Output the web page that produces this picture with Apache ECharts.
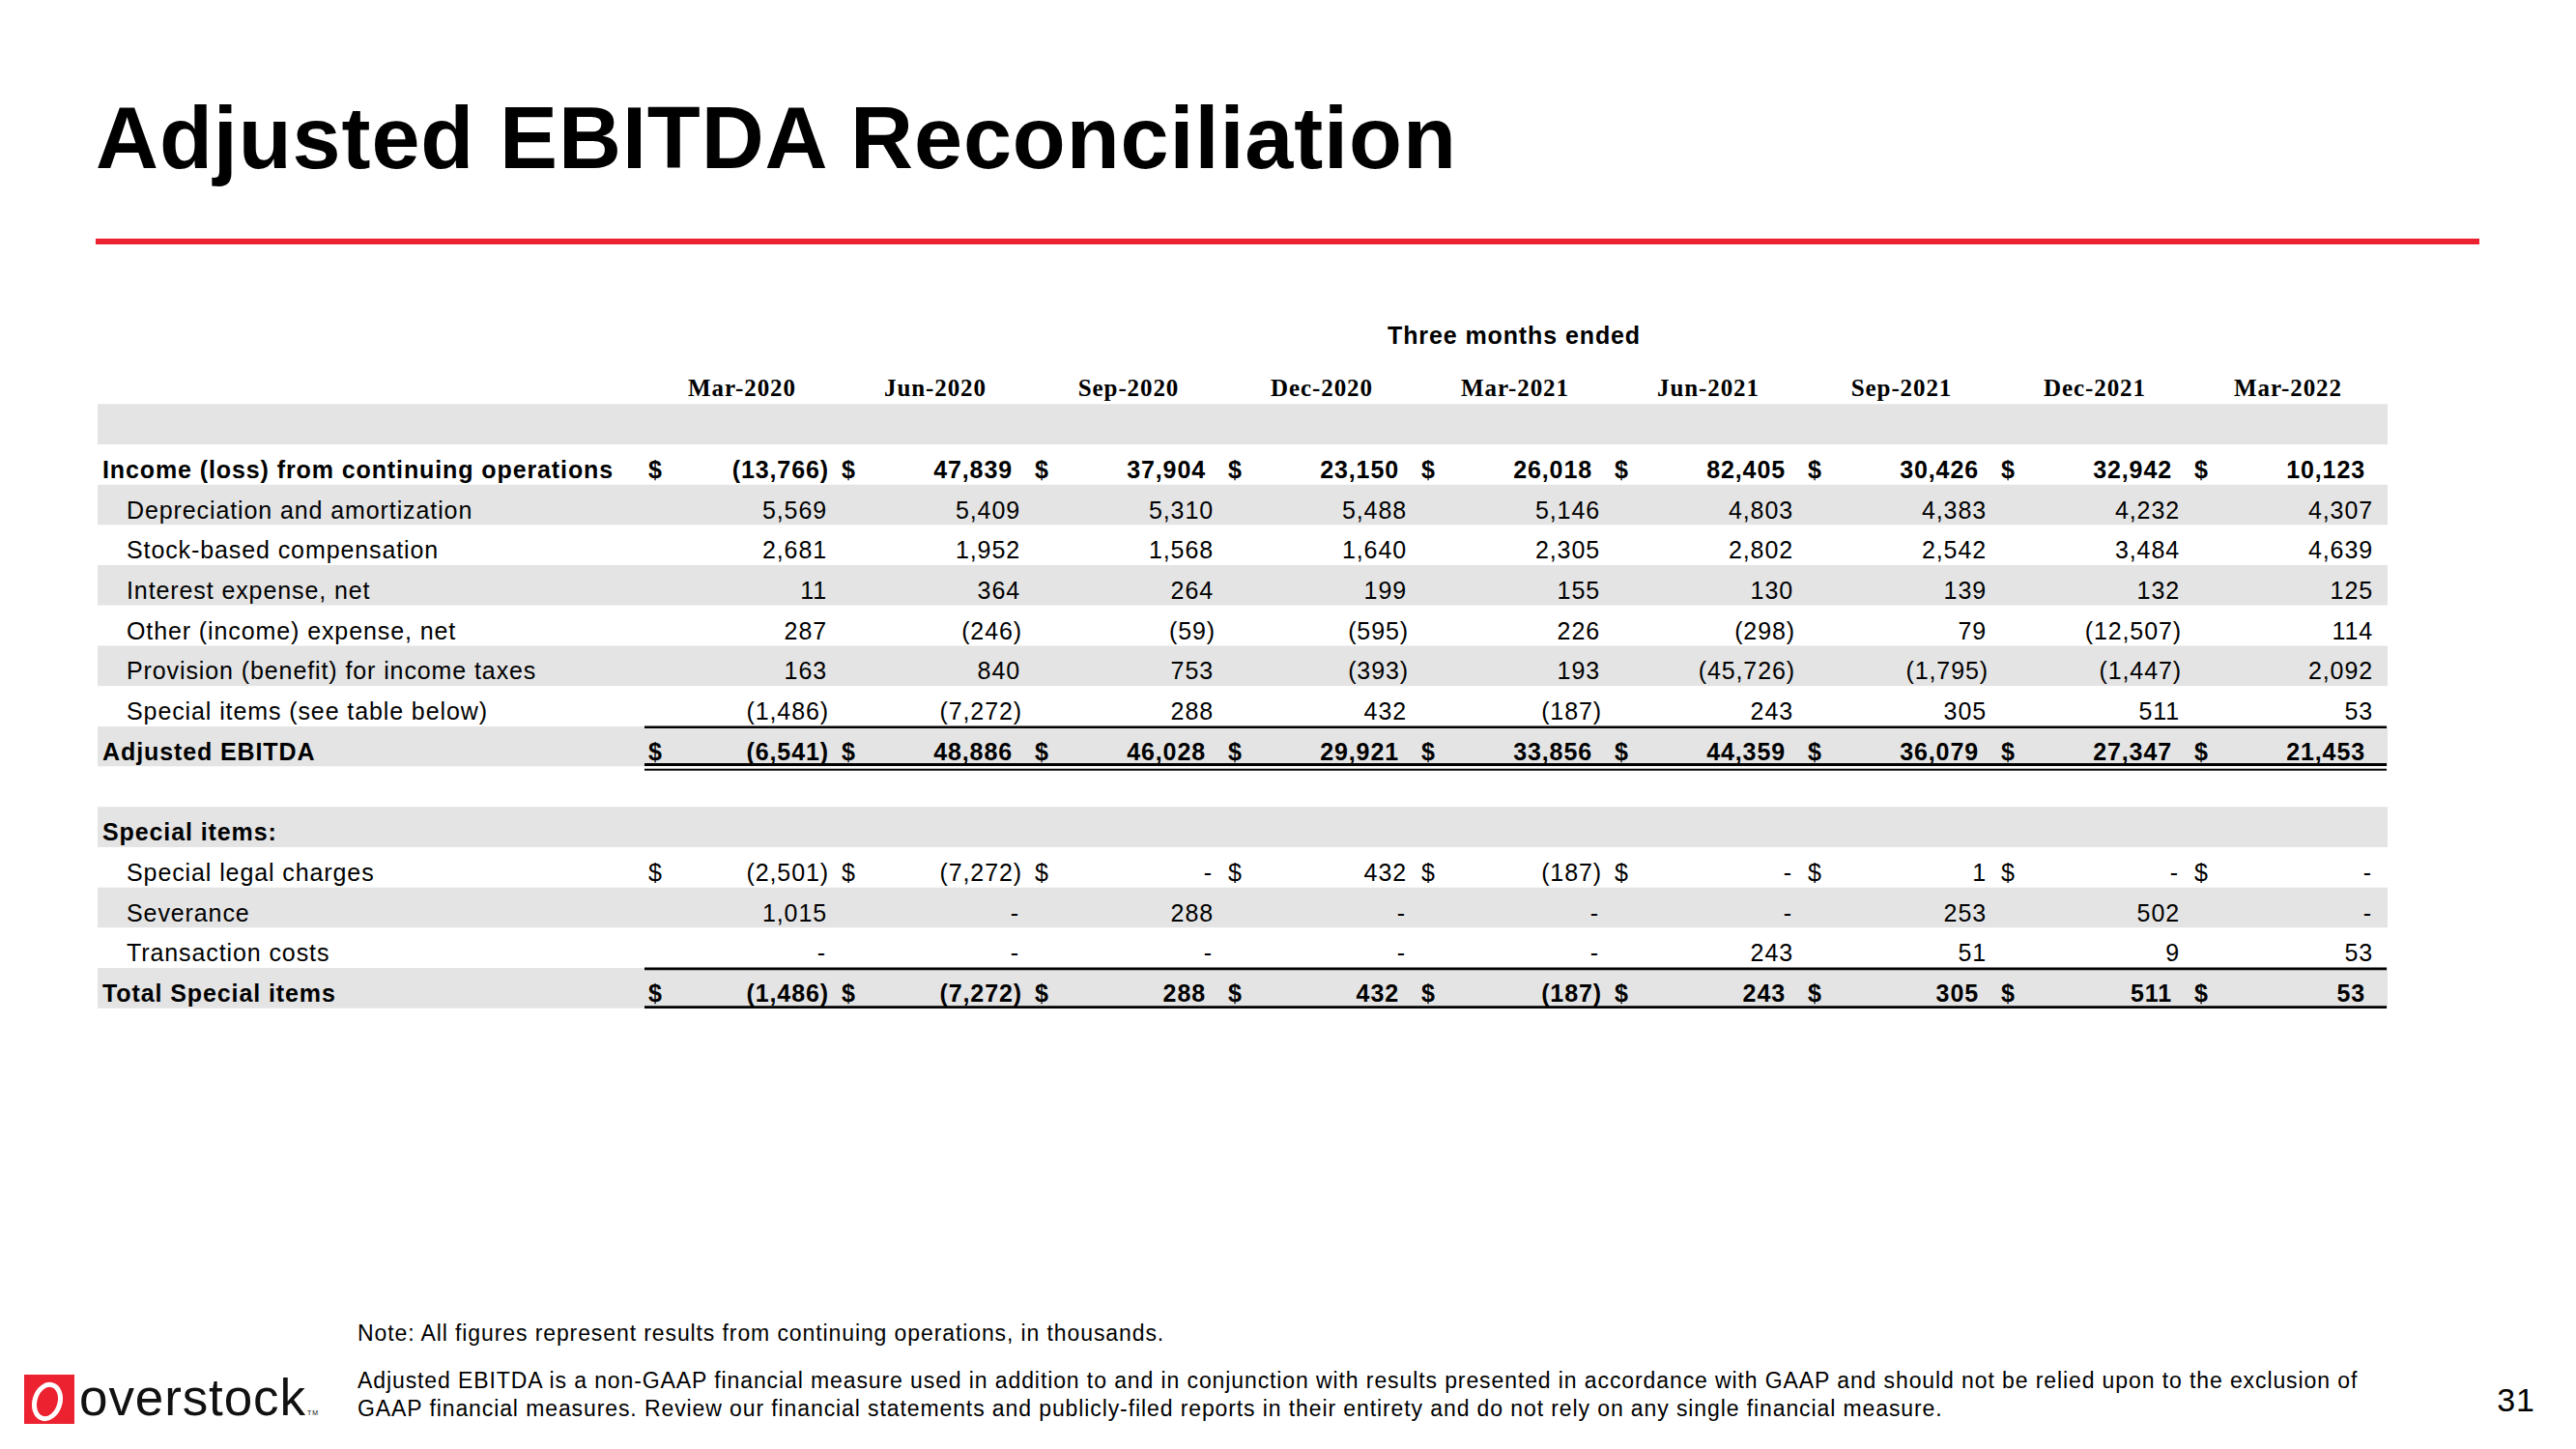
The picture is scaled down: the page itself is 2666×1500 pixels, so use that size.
<!DOCTYPE html>
<html><head><meta charset="utf-8">
<script src="https://cdn.jsdelivr.net/npm/echarts@6/dist/echarts.min.js"></script>
<style>
html,body{margin:0;padding:0;background:#fff;}
#chart{width:2666px;height:1500px;}
#chart text{letter-spacing:0.9px;}
</style></head><body><div id="chart"></div>
<script>
// ---------- data ----------
const periods = ['Mar-2020', 'Jun-2020', 'Sep-2020', 'Dec-2020', 'Mar-2021', 'Jun-2021', 'Sep-2021', 'Dec-2021', 'Mar-2022'];
const rowLabels = [' ', 'Income (loss) from continuing operations', 'Depreciation and amortization', 'Stock-based compensation',
  'Interest expense, net', 'Other (income) expense, net', 'Provision (benefit) for income taxes', 'Special items (see table below)',
  'Adjusted EBITDA', '  ', 'Special items:', 'Special legal charges', 'Severance', 'Transaction costs', 'Total Special items'];
const incomeLoss       = [-13766, 47839, 37904, 23150, 26018, 82405, 30426, 32942, 10123];
const depreciation     = [5569, 5409, 5310, 5488, 5146, 4803, 4383, 4232, 4307];
const stockComp        = [2681, 1952, 1568, 1640, 2305, 2802, 2542, 3484, 4639];
const interestExpense  = [11, 364, 264, 199, 155, 130, 139, 132, 125];
const otherIncomeExp   = [287, -246, -59, -595, 226, -298, 79, -12507, 114];
const taxProvision     = [163, 840, 753, -393, 193, -45726, -1795, -1447, 2092];
const specialItems     = [-1486, -7272, 288, 432, -187, 243, 305, 511, 53];
const adjustedEbitda   = [-6541, 48886, 46028, 29921, 33856, 44359, 36079, 27347, 21453];
const specialLegal     = [-2501, -7272, 0, 432, -187, 0, 1, 0, 0];
const severance        = [1015, 0, 288, 0, 0, 0, 253, 502, 0];
const transactionCosts = [0, 0, 0, 0, 0, 243, 51, 9, 53];
const totalSpecial     = [-1486, -7272, 288, 432, -187, 243, 305, 511, 53];

const rowValues = {1: incomeLoss, 2: depreciation, 3: stockComp, 4: interestExpense, 5: otherIncomeExp,
  6: taxProvision, 7: specialItems, 8: adjustedEbitda, 11: specialLegal, 12: severance, 13: transactionCosts, 14: totalSpecial};
const boldRows = [1, 8, 10, 14];
const dollarRows = [1, 8, 11, 14];
const topRuleRows = [8, 14];
const doubleBottomRuleRows = [8];
const singleBottomRuleRows = [14];

// ---------- build ----------
const SANS = "'Liberation Sans', Arial, Helvetica, sans-serif";
const SERIF = "'Liberation Serif', 'Times New Roman', serif";
const RED = '#EC2230';
const TOP = 418.3, ROWH = 41.7, NROWS = rowLabels.length;

const cells = [];
Object.keys(rowValues).forEach(k => {
  const r = +k;
  rowValues[k].forEach((v, c) => cells.push([c, r, v, boldRows.includes(r) ? 1 : 0, dollarRows.includes(r) ? 1 : 0]));
});
const rules = [];
topRuleRows.forEach(r => rules.push([0, r, 0]));
doubleBottomRuleRows.forEach(r => rules.push([0, r, 1]));
singleBottomRuleRows.forEach(r => rules.push([0, r, 2]));

function fmt(v) {
  if (v === 0) return '-';
  const s = Math.abs(v).toLocaleString('en-US');
  return v < 0 ? '(' + s + ')' : s;
}

function renderCell(params, api) {
  const c = api.value(0), r = api.value(1), v = api.value(2), bold = api.value(3), dollar = api.value(4);
  const pt = api.coord([c, r]);
  const bw = api.size([1, 1]);
  const R = pt[0] + bw[0] / 2 - 8;
  const y = pt[1] + 5;
  let dx;
  if (v === 0) dx = -1; else if (v < 0) dx = 2; else dx = bold ? -8 : 0;
  const font = (bold ? 'bold ' : '') + '25px ' + SANS;
  const children = [{type: 'text', x: R + dx, y: y, style: {text: fmt(v), align: 'right', verticalAlign: 'middle', font: font, fill: '#000'}}];
  if (dollar) children.push({type: 'text', x: pt[0] - bw[0] / 2 + 7, y: y, style: {text: '$', align: 'left', verticalAlign: 'middle', font: font, fill: '#000'}});
  return {type: 'group', children: children};
}

function renderRule(params, api) {
  const r = api.value(1), kind = api.value(2);
  const pt = api.coord([0, r]);
  const bh = api.size([1, 1])[1];
  const cs = params.coordSys;
  const x1 = cs.x + 3, x2 = cs.x + cs.width + 6;
  const top = pt[1] - bh / 2, bottom = pt[1] + bh / 2;
  const line = (y, w) => ({type: 'line', shape: {x1: x1, y1: y, x2: x2, y2: y}, style: {stroke: '#000', lineWidth: w}});
  let children;
  if (kind === 0) children = [line(top + 0.8, 2.6)];
  else if (kind === 1) children = [line(bottom - 2, 3), line(bottom + 3.2, 2)];
  else children = [line(bottom - 1.2, 2.8)];
  return {type: 'group', children: children};
}

const chart = echarts.init(document.getElementById('chart'), null, {renderer: 'svg', width: 2666, height: 1500});
chart.setOption({
  animation: false,
  backgroundColor: '#ffffff',
  grid: [
    {left: 101, top: TOP, width: 2370, height: ROWH * NROWS},
    {left: 664, top: TOP, width: 1800, height: ROWH * NROWS}
  ],
  xAxis: [
    {gridIndex: 0, type: 'value', min: 0, max: 1, show: false},
    {gridIndex: 1, type: 'category', data: periods, position: 'top',
      axisLine: {show: false}, axisTick: {show: false}, splitLine: {show: false},
      axisLabel: {interval: 0, margin: 4, color: '#000', fontFamily: SERIF, fontWeight: 'bold', fontSize: 25, lineHeight: 26, padding: [0, 0, 0, 8]}}
  ],
  yAxis: [
    {gridIndex: 0, type: 'category', data: rowLabels, inverse: true,
      axisLine: {show: false}, axisTick: {show: false}, axisLabel: {show: false}, splitLine: {show: false},
      splitArea: {show: true, interval: 0, areaStyle: {color: ['#E4E4E4', '#FFFFFF']}}},
    {gridIndex: 1, type: 'category', data: rowLabels, inverse: true,
      axisLine: {show: false}, axisTick: {show: false}, splitLine: {show: false},
      axisLabel: {interval: 0, align: 'left', margin: 558, color: '#000',
        formatter: (val, idx) => boldRows.includes(idx) ? '{b|' + val + '}' : '{r|' + val + '}',
        rich: {
          b: {fontFamily: SANS, fontWeight: 'bold', fontSize: 25, color: '#000', padding: [10, 0, 0, 0]},
          r: {fontFamily: SANS, fontSize: 25, color: '#000', padding: [10, 0, 0, 25]}
        }}}
  ],
  series: [
    {type: 'custom', xAxisIndex: 1, yAxisIndex: 1, data: cells, encode: {x: 0, y: 1}, renderItem: renderCell, silent: true},
    {type: 'custom', xAxisIndex: 1, yAxisIndex: 1, data: rules, encode: {x: 0, y: 1}, renderItem: renderRule, silent: true}
  ],
  graphic: [
    {type: 'text', x: 99, y: 143, style: {text: 'Adjusted EBITDA Reconciliation', font: 'bold 90px ' + SANS, fill: '#000', align: 'left', verticalAlign: 'middle'}},
    {type: 'rect', shape: {x: 99, y: 247, width: 2467, height: 6}, style: {fill: RED}},
    {type: 'text', x: 1567, y: 347, style: {text: 'Three months ended', font: 'bold 25px ' + SANS, fill: '#000', align: 'center', verticalAlign: 'middle'}},
    {type: 'text', x: 370, y: 1380, style: {text: 'Note: All figures represent results from continuing operations, in thousands.', font: '23px ' + SANS, fill: '#000', align: 'left', verticalAlign: 'middle'}},
    {type: 'text', x: 370, y: 1429, style: {text: 'Adjusted EBITDA is a non-GAAP financial measure used in addition to and in conjunction with results presented in accordance with GAAP and should not be relied upon to the exclusion of', font: '23px ' + SANS, fill: '#000', align: 'left', verticalAlign: 'middle'}},
    {type: 'text', x: 370, y: 1458, style: {text: 'GAAP financial measures. Review our financial statements and publicly-filed reports in their entirety and do not rely on any single financial measure.', font: '23px ' + SANS, fill: '#000', align: 'left', verticalAlign: 'middle'}},
    {type: 'text', x: 2604, y: 1449, style: {text: '31', font: '34px ' + SANS, fill: '#000', align: 'center', verticalAlign: 'middle'}},
    {type: 'rect', shape: {x: 25, y: 1423, width: 52, height: 51}, style: {fill: RED}},
    {type: 'ellipse', x: 49, y: 1451, rotation: -0.3, shape: {cx: 0, cy: 0, rx: 13, ry: 18}, style: {fill: 'none', stroke: '#fff', lineWidth: 5}},
    {type: 'text', x: 82, y: 1446, style: {text: 'overstock', font: '53px ' + SANS, fill: '#111', align: 'left', verticalAlign: 'middle'}},
    {type: 'text', x: 318, y: 1462, style: {text: 'TM', font: '7px ' + SANS, fill: '#111', align: 'left', verticalAlign: 'middle'}}
  ]
});
</script></body></html>
